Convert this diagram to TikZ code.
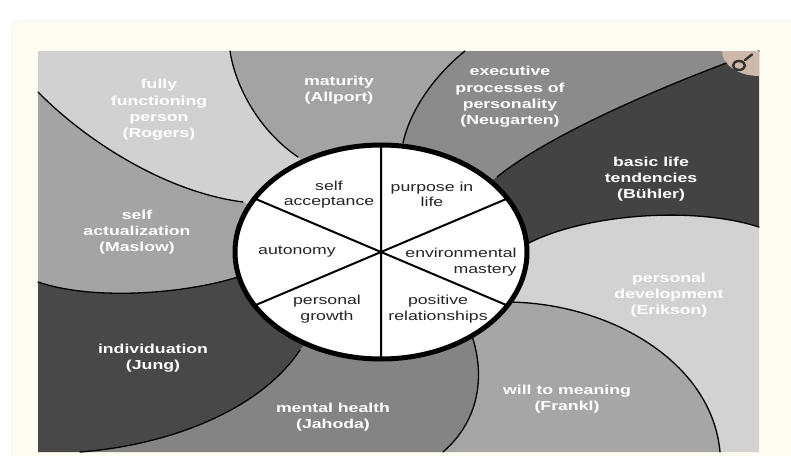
\documentclass[tikz,border=0pt]{standalone}
\usepackage{fontspec}
\newfontfamily\lblfont[FakeStretch=1.36]{Liberation Sans}
\definecolor{cream}{HTML}{FFFCF1}
\definecolor{framec}{HTML}{EADFCC}
\definecolor{rogersc}{HTML}{D1D1D1}
\definecolor{allportc}{HTML}{A3A3A3}
\definecolor{neugartenc}{HTML}{8B8B8B}
\definecolor{buhlerc}{HTML}{434343}
\definecolor{eriksonc}{HTML}{D2D2D2}
\definecolor{franklc}{HTML}{A6A6A6}
\definecolor{jahodac}{HTML}{848484}
\definecolor{jungc}{HTML}{484848}
\definecolor{maslowc}{HTML}{A4A4A4}
\definecolor{lensc}{HTML}{CDB8AA}
\begin{document}
\begin{tikzpicture}[x=1pt,y=-1pt,line join=round,line cap=round,
    outer/.style={font=\lblfont\bfseries\fontsize{13}{16.3}\selectfont,text=white,align=center,inner sep=0pt},
    inner/.style={font=\lblfont\fontsize{13}{15.5}\selectfont,text=black!85,align=center,inner sep=0pt},
    seam/.style={line width=1.3pt}]
    \useasboundingbox (0,0) rectangle (791,455);
    \clip (0,0) rectangle (791,455);
    \fill[white] (0,0) rectangle (791,455);
    \filldraw[fill=cream,draw=framec,rounded corners=6pt] (12,21) rectangle (830,490);
    \coordinate (o) at (381,252);
    % the nine wedges, clockwise from the top
    \fill[allportc] (o) -- (298,157) .. controls (258,130) and (235,85) .. (230,51) -- (465,51) .. controls (435,75) and (410,110) .. (403,143) -- cycle;
    \fill[neugartenc] (o) -- (403,143) .. controls (410,110) and (435,75) .. (465,51) -- (759,51) .. controls (650,90) and (545,138) .. (497,177) -- cycle;
    \fill[buhlerc] (o) -- (497,177) .. controls (545,138) and (650,90) .. (759,51) -- (759,227) .. controls (690,205) and (580,215) .. (525,245) -- cycle;
    \fill[eriksonc] (o) -- (525,245) .. controls (580,215) and (690,205) .. (759,227) -- (759,452) -- (720,452) .. controls (712,362) and (610,303) .. (508,302) -- cycle;
    \fill[franklc] (o) -- (508,302) .. controls (610,303) and (712,362) .. (720,452) -- (443,452) .. controls (480,420) and (485,375) .. (472,336) -- cycle;
    \fill[jahodac] (o) -- (472,336) .. controls (485,375) and (480,420) .. (443,452) -- (80,452) .. controls (170,445) and (260,410) .. (300,350) -- cycle;
    \fill[jungc] (o) -- (300,350) .. controls (260,410) and (170,445) .. (80,452) -- (38,452) -- (38,282) .. controls (90,300) and (180,295) .. (238,277) -- cycle;
    \fill[maslowc] (o) -- (238,277) .. controls (180,295) and (90,300) .. (38,282) -- (38,92) .. controls (85,140) and (165,192) .. (243,202) -- cycle;
    \fill[rogersc] (o) -- (243,202) .. controls (165,192) and (85,140) .. (38,92) -- (38,51) -- (230,51) .. controls (235,85) and (258,130) .. (298,157) -- cycle;
    \draw[seam] (298,157) .. controls (258,130) and (235,85) .. (230,51)
        (403,143) .. controls (410,110) and (435,75) .. (465,51)
        (497,177) .. controls (545,138) and (650,90) .. (759,51)
        (525,245) .. controls (580,215) and (690,205) .. (759,227)
        (508,302) .. controls (610,303) and (712,362) .. (720,452)
        (472,336) .. controls (485,375) and (480,420) .. (443,452)
        (300,350) .. controls (260,410) and (170,445) .. (80,452)
        (238,277) .. controls (180,295) and (90,300) .. (38,282)
        (243,202) .. controls (165,192) and (85,140) .. (38,92);
    % magnifier in the corner
    \begin{scope}
        \clip (38,51) rectangle (759,452);
        \fill[lensc] (759,51) ellipse [x radius=37pt,y radius=25pt];
        \draw[line width=2.4pt,black!80] (739,65.5) ellipse [x radius=6pt,y radius=4.5pt] (745,60) -- (752,54.5);
    \end{scope}
    % the wheel
    \fill[white] (o) ellipse [x radius=146pt,y radius=107pt];
    \draw[line width=2pt] (381,145) -- (381,359) (254.6,198.5) -- (507.4,305.5) (254.6,305.5) -- (507.4,198.5);
    \draw[line width=5pt] (o) ellipse [x radius=146pt,y radius=107pt];
    \node[inner] (accept) at (329,194.5) {self\\acceptance};
    \node[inner] (purpose) at (432,194.5) {purpose in\\life};
    \node[inner] (autonomy) at (297,252) {autonomy};
    \node[inner,align=right] (mastery) at (461,262) {environmental\\mastery};
    \node[inner] (growth) at (327,309) {personal\\growth};
    \node[inner] (relation) at (438,309) {positive\\relationships};
    \node[outer] (rogers) at (159,110) {fully\\functioning\\person\\(Rogers)};
    \node[outer] (allport) at (339,90) {maturity\\(Allport)};
    \node[outer] (neugarten) at (510,97) {executive\\processes of\\personality\\(Neugarten)};
    \node[outer] (buhler) at (651,179) {basic life\\tendencies\\(Bühler)};
    \node[outer] (erikson) at (669,295) {personal\\development\\(Erikson)};
    \node[outer] (frankl) at (567,399) {will to meaning\\(Frankl)};
    \node[outer] (jahoda) at (333,417) {mental health\\(Jahoda)};
    \node[outer] (jung) at (153,358) {individuation\\(Jung)};
    \node[outer] (maslow) at (137,232) {self\\actualization\\(Maslow)};
\end{tikzpicture}
\end{document}
